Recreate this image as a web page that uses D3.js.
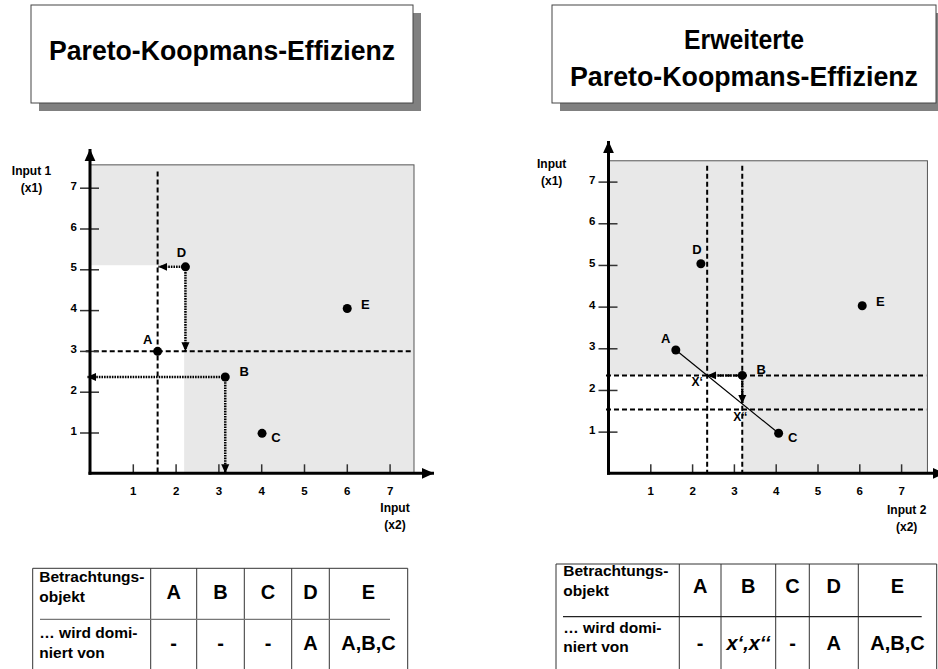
<!DOCTYPE html>
<html>
<head>
<meta charset="utf-8">
<script src="https://cdn.jsdelivr.net/npm/d3@7"></script>
<style>
body { margin: 0; background: #fff; }
svg { display: block; font-family: "Liberation Sans", Arial, sans-serif; }
</style>
</head>
<body>
<svg id="chart" width="938" height="669"></svg>
<script>
// --- data ---
var ticks = [1, 2, 3, 4, 5, 6, 7]
var names = ["A", "B", "C", "D", "E"]
// x = Input 2 (x2), y = Input 1 (x1)
var leftX = [1.58, 3.16, 4.02, 2.23, 6.01]
var leftY = [2.99, 2.36, 0.98, 5.06, 4.04]
var rightX = [1.61, 3.2, 4.07, 2.21, 6.07]
var rightY = [2.96, 2.35, 0.96, 5.03, 4.02]
var leftWhite = [2.2, 5.1]      // unshaded corner of the left chart
var rightLowerGuide = 1.53      // second horizontal guide, right chart
var titles = [["Pareto-Koopmans-Effizienz"], ["Erweiterte", "Pareto-Koopmans-Effizienz"]]
var rowLabels = [["Betrachtungs-", "objekt"], ["\u2026 wird domi-", "niert von"]]
var leftDominated = ["-", "-", "-", "A", "A,B,C"]
var rightDominated = ["-", "x\u2018,x\u2018\u2018", "-", "A", "A,B,C"]

var svg = d3.select("#chart")

var defs = svg.append("defs")
function marker(id, size) {
    defs.append("marker")
        .attr("id", id)
        .attr("viewBox", "0 0 10 10")
        .attr("refX", 10).attr("refY", 5)
        .attr("markerWidth", size).attr("markerHeight", size)
        .attr("markerUnits", "userSpaceOnUse")
        .attr("orient", "auto")
        .append("path").attr("d", "M0,0.5 L10,5 L0,9.5 z").attr("fill", "#000")
}
marker("tip", 9)
marker("axistip", 12)

// --- title boxes ---
var boxes = [
    { x: 31, y: 5, w: 382, h: 98, lines: [60] },
    { x: 552, y: 5, w: 384, h: 98, lines: [49, 86] }
]
var lineWidths = [[346], [120, 348]]
boxes.forEach(function (b, i) {
    svg.append("rect").attr("x", b.x + 8).attr("y", b.y + 8).attr("width", b.w).attr("height", b.h)
        .attr("fill", "#808080")
    svg.append("rect").attr("x", b.x).attr("y", b.y).attr("width", b.w).attr("height", b.h)
        .attr("fill", "#fff").attr("stroke", "#444").attr("stroke-width", 1)
    titles[i].forEach(function (t, j) {
        svg.append("text")
            .attr("x", b.x + b.w / 2).attr("y", b.lines[j])
            .attr("text-anchor", "middle")
            .attr("font-size", 27).attr("font-weight", "bold")
            .attr("textLength", lineWidths[i][j]).attr("lengthAdjust", "spacingAndGlyphs")
            .text(t)
    })
})

// --- panels ---
function frame(cfg) {
    var g = svg.append("g")
    var x = d3.scaleLinear().domain([0, 7]).range([cfg.x0, cfg.x0 + 7 * cfg.ux])
    var y = d3.scaleLinear().domain([0, 7]).range([cfg.y0, cfg.y0 - 7 * cfg.uy])

    g.append("rect")
        .attr("x", x(0)).attr("y", y(cfg.grayY))
        .attr("width", x(cfg.grayX) - x(0)).attr("height", y(0) - y(cfg.grayY))
        .attr("fill", "#e8e8e8").attr("stroke", "#555").attr("stroke-width", 1)
    g.append("rect")
        .attr("x", x(0)).attr("y", y(cfg.white[1]))
        .attr("width", x(cfg.white[0]) - x(0)).attr("height", y(0) - y(cfg.white[1]))
        .attr("fill", "#fff")
    return { g: g, x: x, y: y }
}

function axes(p, cfg) {
    var g = p.g, x = p.x, y = p.y
    var ya = g.append("g").attr("transform", "translate(" + x(0) + ",0)")
        .call(d3.axisLeft(y).tickValues(ticks).tickFormat(d3.format("d")).tickSize(10).tickPadding(3))
    ya.select(".domain").remove()
    ya.selectAll("line").attr("x1", 9).attr("stroke", "#333").attr("stroke-width", 1.5)
    ya.selectAll("text").attr("dy", "0.13em").attr("font-size", 11.5).attr("font-weight", "bold")
        .attr("font-family", "Liberation Sans, Arial, sans-serif").attr("fill", "#000")

    var xa = g.append("g").attr("transform", "translate(0," + y(0) + ")")
        .call(d3.axisBottom(x).tickValues(ticks).tickFormat(d3.format("d"))
            .tickSizeInner(-9).tickSizeOuter(0).tickPadding(14))
    xa.select(".domain").remove()
    xa.selectAll("line").attr("stroke", "#333").attr("stroke-width", 1.5)
    xa.selectAll("text").attr("font-size", 11.5).attr("font-weight", "bold")
        .attr("font-family", "Liberation Sans, Arial, sans-serif").attr("fill", "#000")

    g.append("line").attr("x1", x(0)).attr("y1", y(0) + 1.5).attr("x2", x(0)).attr("y2", cfg.yTip)
        .attr("stroke", "#000").attr("stroke-width", 3).attr("marker-end", "url(#axistip)")
    g.append("line").attr("x1", x(0) - 1.5).attr("y1", y(0)).attr("x2", cfg.xTip).attr("y2", y(0))
        .attr("stroke", "#000").attr("stroke-width", 3).attr("marker-end", "url(#axistip)")

    cfg.yTitle.forEach(function (t, j) {
        g.append("text").attr("x", cfg.yTitlePos[0]).attr("y", cfg.yTitlePos[1] + j * 17)
            .attr("text-anchor", "middle").attr("font-size", 12).attr("font-weight", "bold").text(t)
    })
    cfg.xTitle.forEach(function (t, j) {
        g.append("text").attr("x", cfg.xTitlePos[0]).attr("y", cfg.xTitlePos[1] + j * 17)
            .attr("text-anchor", "middle").attr("font-size", 12).attr("font-weight", "bold").text(t)
    })
}

function dashed(p, x1, y1, x2, y2) {
    p.g.append("line")
        .attr("x1", p.x(x1)).attr("y1", p.y(y1)).attr("x2", p.x(x2)).attr("y2", p.y(y2))
        .attr("stroke", "#000").attr("stroke-width", 2).attr("stroke-dasharray", "5,3")
}

function arrow(p, x1, y1, x2, y2) {
    p.g.append("line")
        .attr("x1", p.x(x1)).attr("y1", p.y(y1)).attr("x2", p.x(x2)).attr("y2", p.y(y2))
        .attr("stroke", "#000").attr("stroke-width", 2.5).attr("stroke-dasharray", "1.6,1")
        .attr("marker-end", "url(#tip)")
}

var labelOffset = {
    A: [-10, -12], B: [19, -6], C: [14, 4], D: [-4, -14], E: [18, -4]
}

function points(p, pts) {
    p.g.selectAll(".pt").data(pts).enter().append("circle")
        .attr("class", "pt")
        .attr("cx", function (d) { return p.x(d.x) })
        .attr("cy", function (d) { return p.y(d.y) })
        .attr("r", 4.5).attr("fill", "#000")
    p.g.selectAll(".ptlabel").data(pts).enter().append("text")
        .attr("class", "ptlabel")
        .attr("x", function (d) { return p.x(d.x) + labelOffset[d.name][0] })
        .attr("y", function (d) { return p.y(d.y) + labelOffset[d.name][1] })
        .attr("dy", "0.35em").attr("text-anchor", "middle")
        .attr("font-size", 13).attr("font-weight", "bold")
        .text(function (d) { return d.name })
}

// left chart
var leftCfg = {
    x0: 90, y0: 473.3, ux: 42.8, uy: 40.8, grayX: 7.57, grayY: 7.56, white: leftWhite,
    xTip: 434, yTip: 149,
    yTitle: ["Input 1", "(x1)"], yTitlePos: [31.5, 175],
    xTitle: ["Input", "(x2)"], xTitlePos: [395, 512]
}
var lp = frame(leftCfg)
var lpts = names.map(function (n, i) { return { name: n, x: leftX[i], y: leftY[i] } })
var lA = lpts[0], lB = lpts[1], lD = lpts[3]
dashed(lp, lA.x, 7.4, lA.x, 0)
dashed(lp, -0.1, lA.y, 7.53, lA.y)
arrow(lp, lD.x, lD.y, lA.x + 0.02, lD.y)
arrow(lp, lD.x, lD.y, lD.x, lA.y)
arrow(lp, lB.x, lB.y, -0.07, lB.y)
arrow(lp, lB.x, lB.y, lB.x, 0)
points(lp, lpts)
axes(lp, leftCfg)

// right chart
var rpts = names.map(function (n, i) { return { name: n, x: rightX[i], y: rightY[i] } })
var rA = rpts[0], rB = rpts[1], rC = rpts[2]
var slope = (rC.y - rA.y) / (rC.x - rA.x)
var xP = { x: rA.x + (rB.y - rA.y) / slope, y: rB.y }      // x'
var xPP = { x: rB.x, y: rA.y + slope * (rB.x - rA.x) }     // x''
var rightCfg = {
    x0: 608.5, y0: 473.3, ux: 41.8, uy: 41.67, grayX: 7.63, grayY: 7.5, white: [rB.x, rB.y],
    xTip: 945, yTip: 141,
    yTitle: ["Input", "(x1)"], yTitlePos: [551.7, 168],
    xTitle: ["Input 2", "(x2)"], xTitlePos: [906.7, 514]
}
var rp = frame(rightCfg)
dashed(rp, xP.x, 7.38, xP.x, 0)
dashed(rp, rB.x, 7.38, rB.x, 0)
dashed(rp, -0.06, rB.y, 7.6, rB.y)
dashed(rp, -0.06, rightLowerGuide, 7.6, rightLowerGuide)
rp.g.append("line")
    .attr("x1", rp.x(rA.x)).attr("y1", rp.y(rA.y)).attr("x2", rp.x(rC.x)).attr("y2", rp.y(rC.y))
    .attr("stroke", "#000").attr("stroke-width", 1.2)
arrow(rp, rB.x, rB.y, xP.x, xP.y)
arrow(rp, rB.x, rB.y, xPP.x, xPP.y)
points(rp, rpts)
rp.g.append("text").attr("x", rp.x(xP.x) - 10).attr("y", rp.y(xP.y) + 6).attr("dy", "0.35em")
    .attr("text-anchor", "middle").attr("font-size", 12).attr("font-weight", "bold").text("X\u2018")
rp.g.append("text").attr("x", rp.x(xPP.x) - 2).attr("y", rp.y(xPP.y) + 13).attr("dy", "0.35em")
    .attr("text-anchor", "middle").attr("font-size", 12).attr("font-weight", "bold").text("X\u2018\u2018")
axes(rp, rightCfg)

// --- tables ---
function table(cfg, values) {
    var g = svg.append("g")
    var c = cfg.cols
    g.append("line").attr("x1", c[0]).attr("x2", c[c.length - 1]).attr("y1", cfg.top).attr("y2", cfg.top)
        .attr("stroke", "#333").attr("stroke-width", 1)
    g.selectAll(".col").data(c).enter().append("line")
        .attr("x1", function (d) { return d }).attr("x2", function (d) { return d })
        .attr("y1", cfg.top).attr("y2", 669)
        .attr("stroke", "#333").attr("stroke-width", 1)
    g.append("line").attr("x1", cfg.div[0]).attr("x2", cfg.div[1]).attr("y1", cfg.div[2]).attr("y2", cfg.div[2])
        .attr("stroke", cfg.divColor).attr("stroke-width", 1.2)

    rowLabels.forEach(function (lines, r) {
        lines.forEach(function (t, j) {
            g.append("text").attr("x", cfg.labelX).attr("y", cfg.labelY[r] + j * 19.5)
                .attr("font-size", 15.5).attr("font-weight", "bold").text(t)
        })
    })
    names.forEach(function (n, i) {
        var cx = (c[i + 1] + c[i + 2]) / 2
        g.append("text").attr("x", cx).attr("y", cfg.headY).attr("text-anchor", "middle")
            .attr("font-size", 20).attr("font-weight", "bold").text(n)
        g.append("text").attr("x", cx).attr("y", cfg.valY).attr("text-anchor", "middle")
            .attr("font-size", 20).attr("font-weight", "bold")
            .attr("font-style", values[i].indexOf("x") >= 0 ? "italic" : "normal")
            .text(values[i])
    })
}

table({
    cols: [32.7, 150.7, 196.7, 244.3, 291.7, 329.3, 407.7], top: 568.3,
    div: [40, 390, 619.3], divColor: "#777",
    labelX: 39.3, labelY: [582, 638], headY: 598.5, valY: 650
}, leftDominated)

table({
    cols: [556, 679.3, 721, 775.7, 809.3, 858.3, 936.7], top: 564,
    div: [563, 921.7, 616.7], divColor: "#222",
    labelX: 563.3, labelY: [576, 632.5], headY: 593, valY: 649.5
}, rightDominated)
</script>
</body>
</html>
